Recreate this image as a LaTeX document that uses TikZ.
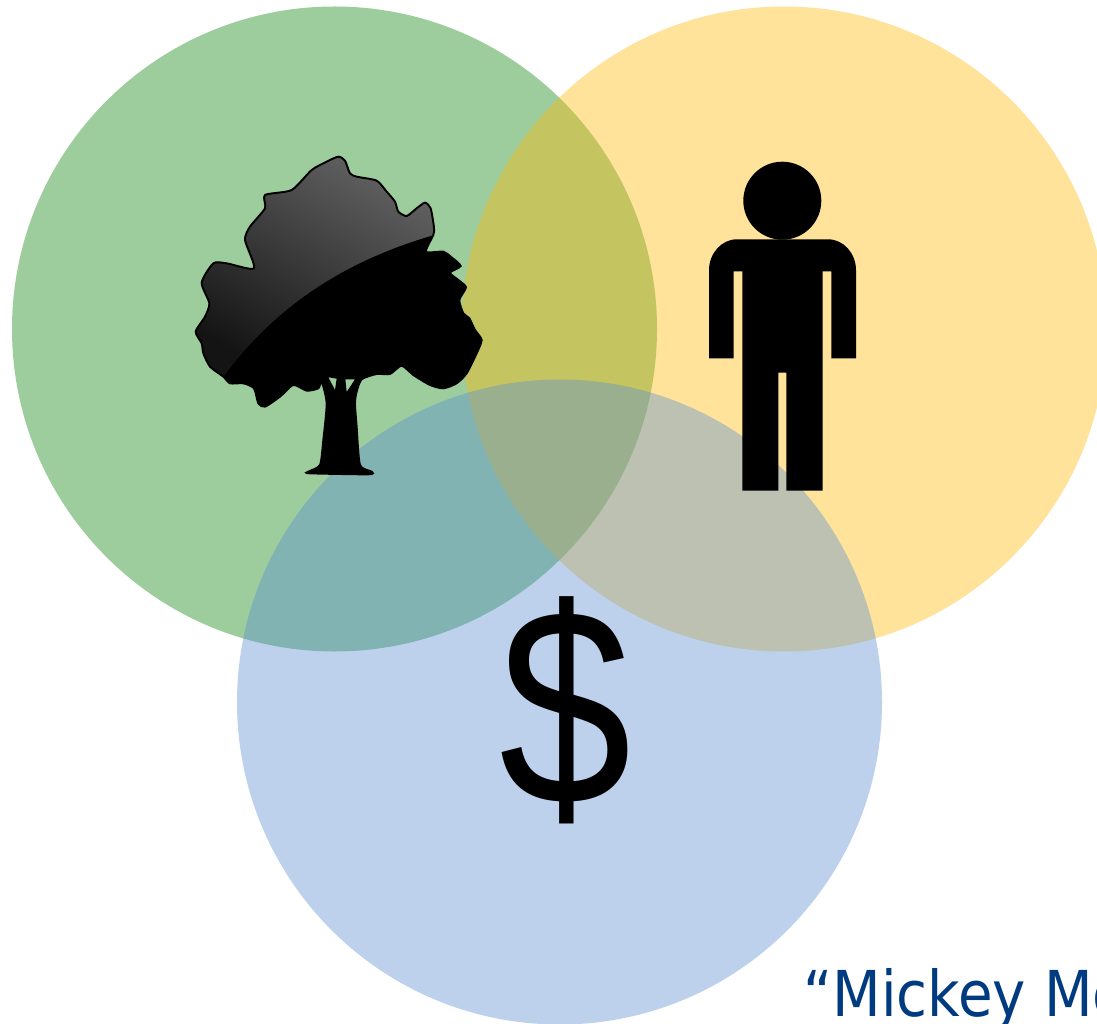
\documentclass[tikz,border=0pt]{standalone}
\usepackage{fontspec}
\setmainfont{Liberation Sans}
\newfontfamily\captionfont{DejaVu Sans}
\definecolor{vgreen}{RGB}{10,132,10}
\definecolor{vyellow}{RGB}{255,185,5}
\definecolor{vblue}{RGB}{90,142,212}
\definecolor{capblue}{RGB}{0,59,128}
\tikzset{venn/.style={fill=#1,fill opacity=0.4,draw=none}}
\newcommand{\treeoutline}{plot[smooth cycle,tension=0.4] coordinates {(475,50)(495,62)(510,100)(530,110)(590,122)(620,155)(645,185)(655,215)(680,228)(710,205)(735,188)(752,205)(762,262)(760,285)(738,335)(790,335)(812,350)(842,378)(810,398)(835,420)(858,442)(838,480)(850,520)(868,535)(885,570)(905,600)(890,640)(860,700)(830,730)(790,745)(750,735)(700,705)(665,677)(630,702)(590,702)(545,718)(530,755)(525,790)(530,860)(540,975)(575,995)(565,1003)(390,1000)(385,995)(420,975)(430,900)(440,790)(425,725)(415,745)(380,752)(340,735)(300,770)(255,800)(235,790)(222,745)(190,730)(150,730)(130,710)(90,680)(70,640)(65,610)(47,575)(75,530)(88,490)(65,428)(100,370)(140,370)(222,385)(195,300)(210,260)(255,205)(255,165)(335,150)(395,90)(440,65)}}
\begin{document}
\begin{tikzpicture}[x=0.02cm,y=-0.02cm]
\useasboundingbox (0,0) rectangle (1097,1023);
\clip (0,0) rectangle (1097,1023);
\fill[white] (0,0) rectangle (1097,1023);
\fill[venn=vgreen] (334.5,329) circle (322.5);
\fill[venn=vyellow] (784,329) circle (322.5);
\fill[venn=vblue] (559.5,702) circle (322.5);
% tree
\begin{scope}[shift={(180,140)},x=0.02cm/3,y=-0.02cm/3]
\fill[black,even odd rule] \treeoutline
  (445,712) -- (470,716) -- (465,750) -- cycle
  (496,718) -- (525,718) -- (500,756) -- cycle;
\begin{scope}
\clip \treeoutline;
\shade[left color=black!62,right color=black!92,shading angle=-30]
  (132,708) .. controls (300,480) and (520,355) .. (762,285) -- (762,40) -- (40,40) -- (40,708) -- cycle;
\end{scope}
\draw[black,line width=1.1pt] \treeoutline;
\end{scope}
% person
\fill[black] (782.3,200.7) circle (39);
\fill[black] (709,358.3) -- (709,270.3) arc[start angle=180,end angle=90,x radius=28,y radius=-31] -- (828,239.3)
 arc[start angle=90,end angle=0,x radius=28,y radius=-31] -- (856,358.3) -- (831.3,358.3) -- (831.3,271.3) -- (822.7,271.3)
 -- (822.7,490.7) -- (786.3,490.7) -- (786.3,372.7) -- (778.3,372.7) -- (778.3,490.7) -- (742.3,490.7) -- (742.3,271.3) -- (733.7,271.3) -- (733.7,358.3) -- cycle;
% dollar
\node[anchor=base,inner sep=0pt,text=black,xscale=0.914,yscale=1.08] (dollar) at (566,804.5) {\fontsize{148pt}{148pt}\selectfont\$};
% caption
\node[anchor=base west,inner sep=0pt,text=capblue,xscale=0.89] (caption) at (803,1016) {\captionfont\fontsize{36pt}{36pt}\selectfont “Mickey Mo};
\end{tikzpicture}
\end{document}
